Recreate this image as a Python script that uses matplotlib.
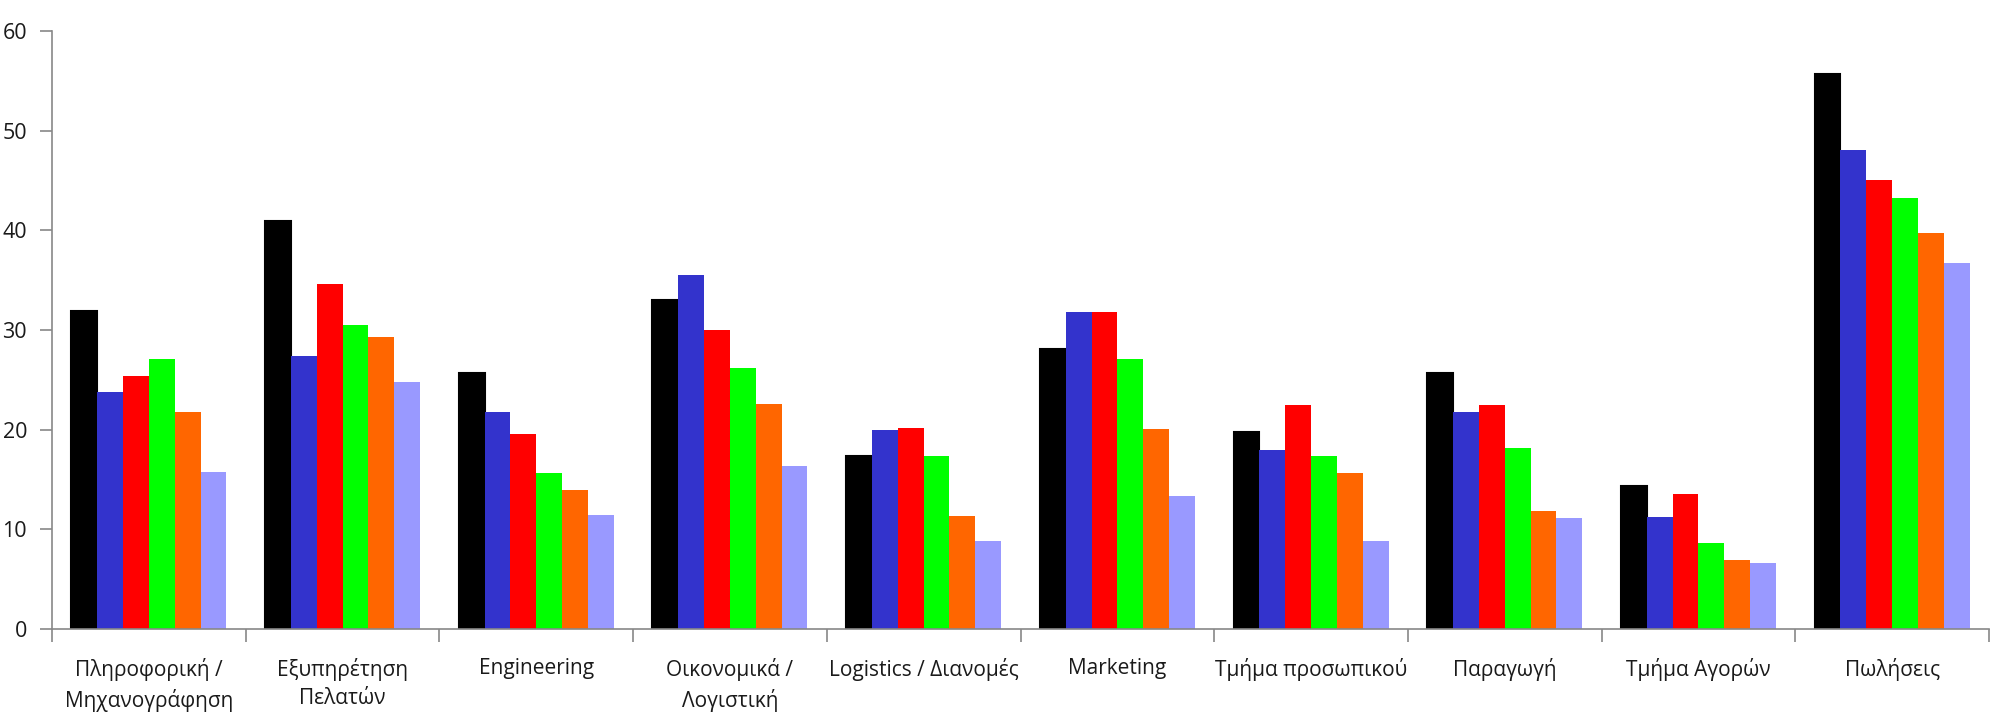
import matplotlib
matplotlib.use("Agg")
import matplotlib.pyplot as plt
import numpy as np

categories = [
    "Πληροφορική /\nΜηχανογράφηση",
    "Εξυπηρέτηση\nΠελατών",
    "Engineering",
    "Οικονομικά /\nΛογιστική",
    "Logistics / Διανομές",
    "Marketing",
    "Τμήμα προσωπικού",
    "Παραγωγή",
    "Τμήμα Αγορών",
    "Πωλήσεις",
]

series_1 = [31.9, 40.9, 25.7, 33.0, 17.4, 28.1, 19.8, 25.7, 14.3, 55.7]
series_2 = [23.8, 27.4, 21.8, 35.5, 20.0, 31.8, 18.0, 21.8, 11.2, 48.1]
series_3 = [25.4, 34.6, 19.6, 30.0, 20.2, 31.8, 22.5, 22.5, 13.5, 45.1]
series_4 = [27.1, 30.5, 15.7, 26.2, 17.4, 27.1, 17.4, 18.2, 8.6, 43.2]
series_5 = [21.8, 29.3, 13.9, 22.6, 11.3, 20.1, 15.7, 11.8, 6.95, 39.7]
series_6 = [15.8, 24.8, 11.4, 16.4, 8.8, 13.3, 8.8, 11.1, 6.6, 36.7]

all_series = [series_1, series_2, series_3, series_4, series_5, series_6]
colors = ["#000000", "#3333CC", "#FF0000", "#00FF00", "#FF6600", "#9999FF"]

plt.rcParams["font.family"] = ["Open Sans", "DejaVu Sans"]

fig = plt.figure(figsize=(20, 7.15), dpi=100)
ax = fig.add_axes([0.026, 0.1203, 0.9685, 0.8363])

x = np.arange(len(categories))
group_width = 0.80
n = len(all_series)
bw = group_width / n
for i, (vals, c) in enumerate(zip(all_series, colors)):
    offs = -group_width / 2 + bw * (i + 0.5)
    if i == 0:
        ax.bar(x + offs, vals, width=bw, color=c, edgecolor="#000000",
               linewidth=1.5, zorder=2)
    else:
        ax.bar(x + offs, vals, width=bw, color=c, linewidth=0, zorder=2)

ax.set_xlim(-0.5, len(categories) - 0.5)
ax.set_ylim(0, 60)
ax.set_yticks(np.arange(0, 61, 10))

ax.set_xticks(x)
ax.set_xticklabels(categories, fontsize=15, color="#1a1a1a", linespacing=1.45)
ax.set_xticks(np.arange(-0.5, len(categories), 1.0), minor=True)
ax.tick_params(axis="x", which="major", length=0, pad=21)
ax.tick_params(axis="x", which="minor", length=9, width=1.2, color="#888888",
               direction="out")
ax.tick_params(axis="y", length=9, width=1.2, color="#888888", pad=9,
               labelsize=15.5, labelcolor="#1a1a1a")

for side in ["top", "right"]:
    ax.spines[side].set_visible(False)
for side in ["left", "bottom"]:
    ax.spines[side].set_color("#888888")
    ax.spines[side].set_linewidth(1.2)
ax.spines["bottom"].set_zorder(3)

fig.savefig("out.png", dpi=100, facecolor="white")
